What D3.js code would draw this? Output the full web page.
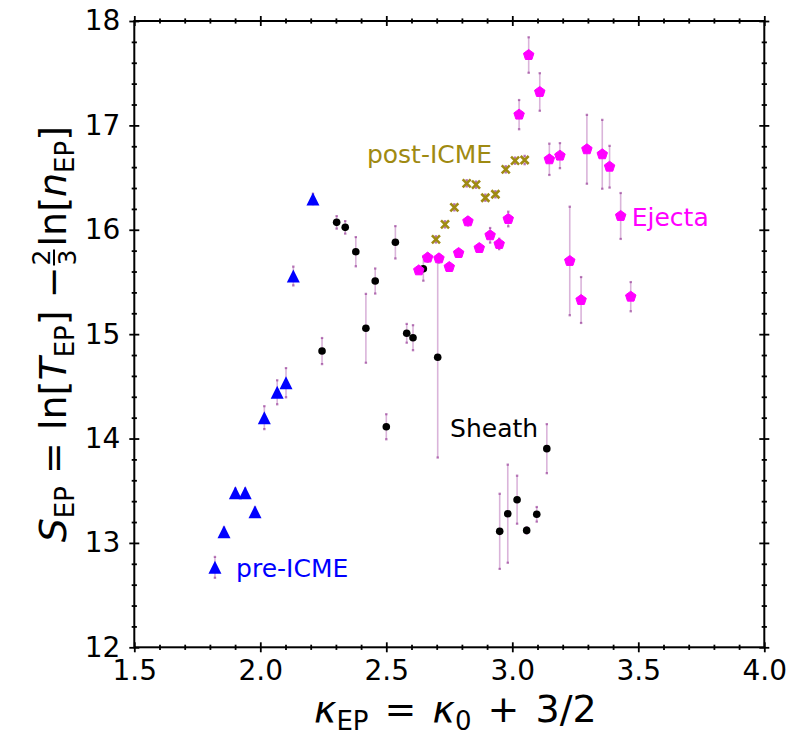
<!DOCTYPE html>
<html>
<head>
<meta charset="utf-8">
<script src="https://cdn.jsdelivr.net/npm/d3@7/dist/d3.min.js"></script>
<style>
  html, body { margin: 0; padding: 0; background: #fff; }
  svg { display: block; font-family: "DejaVu Sans", sans-serif; }
</style>
</head>
<body>
<svg id="chart" width="791" height="742"></svg>
<script>
// ---------------- data ----------------
const preX   = [1.820, 1.856, 1.901, 1.940, 1.979, 2.016, 2.067, 2.102, 2.131, 2.209];
const preY   = [12.766, 13.107, 13.481, 13.481, 13.299, 14.200, 14.443, 14.535, 15.557, 16.295];
const preErr = [0.10, 0.04, 0.04, 0.04, 0.04, 0.11, 0.115, 0.14, 0.09, 0.05];

const sheathX   = [2.245, 2.303, 2.337, 2.379, 2.419, 2.456, 2.500, 2.536, 2.581, 2.606, 2.647, 2.704, 2.950, 2.982, 3.019, 3.057, 3.097, 3.137];
const sheathY   = [14.838, 16.071, 16.023, 15.790, 15.056, 15.509, 14.113, 15.880, 15.008, 14.966, 15.627, 14.778, 13.111, 13.280, 13.414, 13.120, 13.274, 13.903];
const sheathErr = [0.125, 0.06, 0.06, 0.14, 0.33, 0.12, 0.12, 0.155, 0.09, 0.12, 0.115, 0.96, 0.36, 0.47, 0.23, 0.03, 0.07, 0.235];

const ejectaX   = [2.629, 2.664, 2.709, 2.750, 2.787, 2.824, 2.869, 2.912, 2.948, 2.984, 3.027, 3.065, 3.109, 3.147, 3.189, 3.228, 3.273, 3.296, 3.357, 3.386, 3.430, 3.470];
const ejectaY   = [15.611, 15.733, 15.726, 15.643, 15.777, 16.081, 15.825, 15.947, 15.864, 16.103, 17.103, 17.674, 17.320, 16.675, 16.710, 15.701, 15.327, 16.771, 16.723, 16.604, 16.132, 15.359];
const ejectaErr = [0.03, 0.04, 0.04, 0.03, 0.03, 0.04, 0.03, 0.07, 0.05, 0.07, 0.14, 0.17, 0.18, 0.15, 0.12, 0.52, 0.22, 0.33, 0.33, 0.20, 0.22, 0.14];

const postX   = [2.697, 2.733, 2.770, 2.819, 2.856, 2.893, 2.933, 2.974, 3.011, 3.049];
const postY   = [15.908, 16.052, 16.215, 16.445, 16.432, 16.307, 16.340, 16.579, 16.662, 16.668];
const postErr = [0.03, 0.03, 0.03, 0.03, 0.03, 0.03, 0.03, 0.03, 0.03, 0.04];

const xTicks = [1.5, 2.0, 2.5, 3.0, 3.5, 4.0];
const yTicks = [12, 13, 14, 15, 16, 17, 18];
const xTickLabels = ["1.5", "2.0", "2.5", "3.0", "3.5", "4.0"];
const yTickLabels = ["12", "13", "14", "15", "16", "17", "18"];

const labelNames = ["post-ICME", "Ejecta", "Sheath", "pre-ICME"];
const labelX = [2.423, 3.474, 2.753, 1.904];
const labelY = [16.64, 16.036, 14.015, 12.673];

// ---------------- layout ----------------
const svg = d3.select("#chart");
const L = 134.3, R = 764.3, T = 21, B = 647.3;
const x = d3.scaleLinear().domain([1.5, 4.0]).range([L, R]);
const y = d3.scaleLinear().domain([12, 18]).range([B, T]);

const COL_PRE = "#0000ff", COL_SHEATH = "#000000", COL_EJ = "#ff00ff", COL_POST = "#9f8a12";
const ERR_LINE = "rgba(150,40,150,0.35)", ERR_CAP = "rgba(140,40,140,0.6)";

// ---------------- error bars ----------------
const gErr = svg.append("g");
function errBars(xs, ys, es) {
  xs.forEach((xv, i) => {
    const x0 = x(xv), y1 = y(ys[i] + es[i]), y2 = y(ys[i] - es[i]);
    gErr.append("line").attr("x1", x0).attr("x2", x0).attr("y1", y1).attr("y2", y2)
      .attr("stroke", ERR_LINE).attr("stroke-width", 1.6);
    [y1, y2].forEach(yy => gErr.append("line").attr("x1", x0 - 1.2).attr("x2", x0 + 1.2)
      .attr("y1", yy).attr("y2", yy).attr("stroke", ERR_CAP).attr("stroke-width", 2.2));
  });
}
errBars(preX, preY, preErr);
errBars(sheathX, sheathY, sheathErr);
errBars(ejectaX, ejectaY, ejectaErr);
errBars(postX, postY, postErr);

// ---------------- marker types ----------------
const triType = { draw(ctx, size) { const h = Math.sqrt(size) / 2;
  ctx.moveTo(0, -h); ctx.lineTo(h, h); ctx.lineTo(-h, h); ctx.closePath(); } };
const pentType = { draw(ctx, size) { const r = Math.sqrt(size) / 2;
  for (let k = 0; k < 5; k++) { const a = -Math.PI / 2 + k * 2 * Math.PI / 5;
    const px = r * Math.cos(a), py = r * Math.sin(a);
    if (k === 0) ctx.moveTo(px, py); else ctx.lineTo(px, py); }
  ctx.closePath(); } };
const xType = { draw(ctx, size) { const h = Math.sqrt(size) / 2;
  ctx.moveTo(-h, -h); ctx.lineTo(h, h); ctx.moveTo(-h, h); ctx.lineTo(h, -h); } };

const gMk = svg.append("g");
function markers(xs, ys, type, size, fill, stroke, sw) {
  const sym = d3.symbol().type(type).size(size);
  xs.forEach((xv, i) => {
    gMk.append("path").attr("d", sym())
      .attr("transform", `translate(${x(xv)},${y(ys[i])})`)
      .attr("fill", fill).attr("stroke", stroke).attr("stroke-width", sw);
  });
}
markers(preX, preY, triType, 13 * 13, COL_PRE, "none", 0);
markers(sheathX, sheathY, d3.symbolCircle, Math.PI * 3.8 * 3.8, COL_SHEATH, "none", 0);
markers(ejectaX, ejectaY, pentType, 11 * 11, COL_EJ, COL_EJ, 1);
markers(postX, postY, xType, 8 * 8, "none", COL_POST, 2.6);

// ---------------- axes (in-out ticks on all sides) ----------------
const minorX = d3.range(15, 41).map(v => v / 10).filter(v => Math.abs(v * 2 - Math.round(v * 2)) > 1e-6);
const minorY = d3.range(60, 91).map(v => v / 5).filter(v => Math.abs(v - Math.round(v)) > 1e-6);

function inout(g, len, vertical) {
  g.selectAll(".tick line").each(function() {
    const s = d3.select(this);
    if (vertical) s.attr("x1", -len).attr("x2", len); else s.attr("y1", -len).attr("y2", len);
  }).attr("stroke", "#000").attr("stroke-width", 1.8);
  g.select(".domain").remove();
}

const axB = svg.append("g").attr("transform", `translate(0,${B})`)
  .call(d3.axisBottom(x).tickValues(xTicks).tickFormat((d, i) => xTickLabels[i]).tickSize(5).tickPadding(8));
inout(axB, 5, false);
axB.selectAll("text").attr("font-size", 28).attr("font-family", "DejaVu Sans").attr("fill", "#000");
const axBm = svg.append("g").attr("transform", `translate(0,${B})`)
  .call(d3.axisBottom(x).tickValues(minorX).tickFormat("").tickSize(2.6));
inout(axBm, 2.6, false);

const axT = svg.append("g").attr("transform", `translate(0,${T})`)
  .call(d3.axisTop(x).tickValues(xTicks).tickFormat("").tickSize(5));
inout(axT, 5, false);
const axTm = svg.append("g").attr("transform", `translate(0,${T})`)
  .call(d3.axisTop(x).tickValues(minorX).tickFormat("").tickSize(2.6));
inout(axTm, 2.6, false);

const axL = svg.append("g").attr("transform", `translate(${L},0)`)
  .call(d3.axisLeft(y).tickValues(yTicks).tickFormat((d, i) => yTickLabels[i]).tickSize(5).tickPadding(9));
inout(axL, 5, true);
axL.selectAll("text").attr("font-size", 28).attr("font-family", "DejaVu Sans").attr("fill", "#000");
const axLm = svg.append("g").attr("transform", `translate(${L},0)`)
  .call(d3.axisLeft(y).tickValues(minorY).tickFormat("").tickSize(2.6));
inout(axLm, 2.6, true);

const axR = svg.append("g").attr("transform", `translate(${R},0)`)
  .call(d3.axisRight(y).tickValues(yTicks).tickFormat("").tickSize(5));
inout(axR, 5, true);
const axRm = svg.append("g").attr("transform", `translate(${R},0)`)
  .call(d3.axisRight(y).tickValues(minorY).tickFormat("").tickSize(2.6));
inout(axRm, 2.6, true);

svg.append("rect").attr("x", L).attr("y", T).attr("width", R - L).attr("height", B - T)
  .attr("fill", "none").attr("stroke", "#000").attr("stroke-width", 2);

// ---------------- annotations ----------------
const labelCols = [COL_POST, COL_EJ, COL_SHEATH, COL_PRE];
labelNames.forEach((t, i) => {
  svg.append("text").attr("x", x(labelX[i])).attr("y", y(labelY[i]))
    .attr("font-size", 25).attr("fill", labelCols[i]).text(t);
});

// ---------------- x label ----------------
const FS = 38, SUB = 26, DY = 8;
const xl = svg.append("text").attr("x", (L + R) / 2 + 6).attr("y", 722)
  .attr("text-anchor", "middle").attr("font-size", FS).attr("fill", "#000")
  .attr("word-spacing", 4);
xl.append("tspan").attr("font-style", "italic").text("κ");
xl.append("tspan").attr("font-size", SUB).attr("dy", DY).text("EP");
xl.append("tspan").attr("dy", -DY).text(" = ");
xl.append("tspan").attr("font-style", "italic").text("κ");
xl.append("tspan").attr("font-size", SUB).attr("dy", DY).text("0");
xl.append("tspan").attr("dy", -DY).text(" + 3/2");

// ---------------- y label (with stacked fraction) ----------------
const yl = svg.append("g").attr("transform", `translate(66,${(T + B) / 2}) rotate(-90)`);
const p1 = yl.append("text").attr("font-size", FS).attr("fill", "#000");
p1.append("tspan").attr("font-style", "italic").text("S");
p1.append("tspan").attr("font-size", SUB).attr("dy", DY).text("EP");
p1.append("tspan").attr("dy", -DY).text(" = ln[");
p1.append("tspan").attr("font-style", "italic").text("T");
p1.append("tspan").attr("font-size", SUB).attr("dy", DY).text("EP");
p1.append("tspan").attr("dy", -DY).text("] − ");
const w1 = p1.node().getComputedTextLength();
const fr = yl.append("g");
const barY = -12;
fr.append("text").attr("font-size", 25).attr("text-anchor", "middle").attr("y", barY - 4).text("2");
fr.append("text").attr("font-size", 25).attr("text-anchor", "middle").attr("y", barY + 22).text("3");
const fw = 18;
fr.append("line").attr("x1", -fw / 2 + 1).attr("x2", fw / 2 - 1).attr("y1", barY).attr("y2", barY)
  .attr("stroke", "#000").attr("stroke-width", 2);
const p2 = yl.append("text").attr("font-size", FS).attr("fill", "#000");
p2.append("tspan").text("ln[");
p2.append("tspan").attr("font-style", "italic").text("n");
p2.append("tspan").attr("font-size", SUB).attr("dy", DY).text("EP");
p2.append("tspan").attr("dy", -DY).text("]");
const w2 = p2.node().getComputedTextLength();
const total = w1 + fw + 2 + w2;
const start = -total / 2;
p1.attr("x", start);
fr.attr("transform", `translate(${start + w1 + fw / 2},0)`);
p2.attr("x", start + w1 + fw + 2);
</script>
</body>
</html>
